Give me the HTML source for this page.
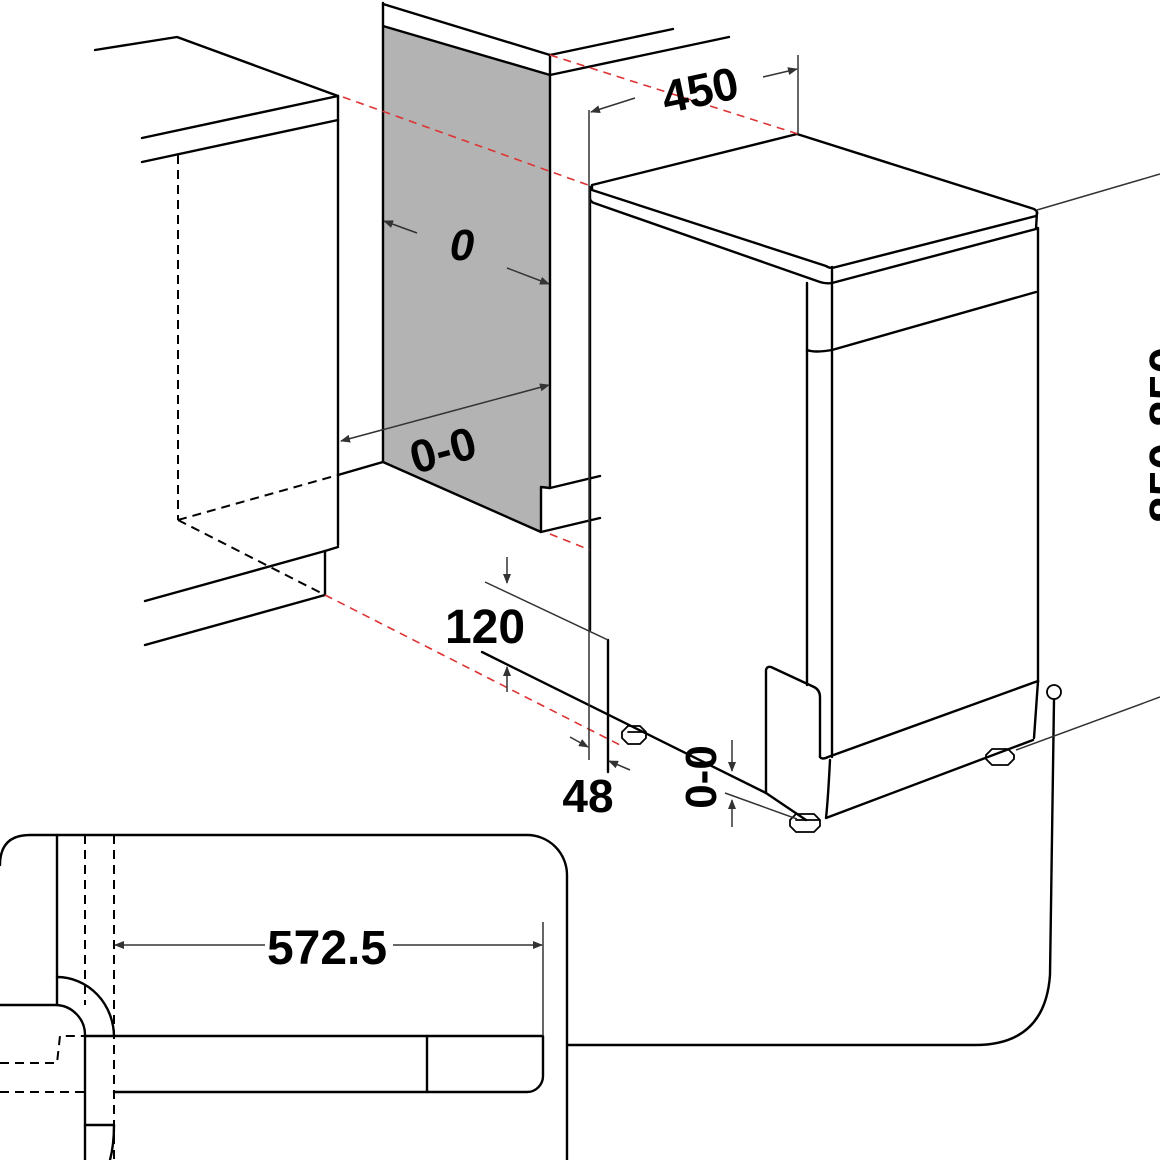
<!DOCTYPE html>
<html><head><meta charset="utf-8"><style>
html,body{margin:0;padding:0;background:#fff;width:1160px;height:1160px;overflow:hidden}
svg{display:block}
text{font-family:"Liberation Sans",sans-serif;font-weight:bold;fill:#000}
</style></head><body>
<svg width="1160" height="1160" viewBox="0 0 1160 1160" xmlns="http://www.w3.org/2000/svg">
<defs>
<marker id="ar" markerWidth="10" markerHeight="8" refX="9" refY="4" orient="auto" markerUnits="userSpaceOnUse">
<path d="M0,0 L10,4 L0,8 z" fill="#333"/></marker>
</defs>
<g fill="none" stroke="#000" stroke-width="2.4" stroke-linejoin="round" stroke-linecap="round">
<polyline points="95,50 177,37 338,96"/>
<line x1="338" y1="96" x2="142" y2="138"/>
<line x1="142" y1="162" x2="338" y2="120"/>
<line x1="338" y1="96" x2="338" y2="545"/>
<line x1="338" y1="475" x2="383" y2="462"/>
<line x1="145" y1="601" x2="325" y2="551"/>
<line x1="145" y1="645" x2="325" y2="595"/>
<line x1="325" y1="551" x2="338" y2="547"/>
<line x1="325" y1="551" x2="325" y2="595"/>
<polygon points="383,26 550,75 550,488 541,487 541,532 383,462" fill="#b3b3b3"/>
<polyline points="383,3 383,26"/>
<line x1="383" y1="4" x2="550" y2="55"/>
<line x1="550" y1="55" x2="550" y2="75"/>
<line x1="550" y1="55" x2="673" y2="29"/>
<line x1="550" y1="75" x2="729" y2="37"/>
<line x1="550" y1="488" x2="600" y2="476"/>
<line x1="541" y1="532" x2="600" y2="518"/>
<path d="M592,185 L797,134 L1034,209 Q1039,212 1036,216 L836,267 Q830,269 826,266 L592,190 Z"/>
<path d="M590,187 L590,199 Q591,202 594,203 L820,282 Q826,284 832,283 L1036,229 L1037,212"/>
<line x1="832" y1="267" x2="832" y2="283"/>
<line x1="590" y1="199" x2="590" y2="630"/>
<line x1="807" y1="283" x2="807" y2="685"/>
<line x1="832" y1="283" x2="832" y2="757"/>
<line x1="1038" y1="228" x2="1038" y2="682"/>
<path d="M807,350 Q815,353 832,350 L1036,292"/>
<path d="M766,793 L766,670 Q767,666 771,667 L814,687 Q820,690 820,697 L820,757"/>
<path d="M820,757 Q822,760 828,757 L1038,681"/>
<path d="M1038,681 L1034,738"/>
<path d="M830,760 Q828,800 826,818 L1033,740"/>
<path d="M766,793 L806,820"/>
<path d="M608,640 L608,772"/>
<path d="M482,652 L766,793"/>
<path d="M622,732 l6,-6 h12 l6,6 v6 l-6,6 h-12 l-6,-6 z M628,732 h18" stroke-width="1.8"/>
<path d="M790,820 l6,-6 h18 l6,6 v6 l-6,6 h-18 l-6,-6 z M796,820 h24" stroke-width="1.8"/>
<path d="M986,755 l6,-6 h16 l6,6 v4 l-6,6 h-16 l-6,-6 z" stroke-width="1.8"/>
<path d="M0,865 Q0,835 30,835 L527,835 A40,40 0 0 1 567,875 L567,1160"/>
<line x1="57" y1="835" x2="57" y2="1005"/>
<path d="M57,977 A57,60 0 0 1 114,1037"/>
<path d="M0,1005 L55,1005 A30,30 0 0 1 85,1035 L85,1160"/>
<path d="M85,1036 L543,1036 L543,1076 A16,16 0 0 1 527,1092 L114,1092"/>
<line x1="427" y1="1036" x2="427" y2="1092"/>
<line x1="85" y1="1125" x2="114" y2="1125"/>
<path d="M114,1125 Q114,1145 110,1160"/>
<path d="M567,1045 L975,1045 Q1045,1045 1050,975 L1054,700"/>
</g>
<g fill="none" stroke="#000" stroke-width="2" stroke-dasharray="9,6">
<line x1="178" y1="155" x2="178" y2="520"/>
<line x1="178" y1="520" x2="338" y2="475"/>
<line x1="178" y1="520" x2="325" y2="595"/>
<line x1="85" y1="835" x2="85" y2="1005"/>
<line x1="114" y1="835" x2="114" y2="1160"/>
<polyline points="0,1063 57,1063 60,1036 85,1036"/>
<line x1="0" y1="1092" x2="85" y2="1092"/>
</g>
<g fill="none" stroke="#d33" stroke-width="1.6" stroke-dasharray="8,6">
<line x1="343" y1="97" x2="588" y2="185"/>
<line x1="550" y1="55" x2="798" y2="134"/>
<line x1="550" y1="534" x2="590" y2="550"/>
<line x1="325" y1="595" x2="620" y2="745"/>
</g>
<g fill="none" stroke="#333" stroke-width="1.5">
<line x1="589" y1="110" x2="589" y2="760"/>
<line x1="798" y1="55" x2="798" y2="134"/>
<line x1="635" y1="98" x2="591" y2="112" marker-end="url(#ar)"/>
<line x1="763" y1="77" x2="797" y2="69" marker-end="url(#ar)"/>
<line x1="417" y1="233" x2="384" y2="221" marker-end="url(#ar)"/>
<line x1="507" y1="268" x2="549" y2="284" marker-end="url(#ar)"/>
<line x1="445" y1="413" x2="549" y2="385" marker-end="url(#ar)"/>
<line x1="445" y1="413" x2="341" y2="441" marker-end="url(#ar)"/>
<line x1="485" y1="582" x2="608" y2="640"/>
<line x1="507" y1="557" x2="507" y2="583" marker-end="url(#ar)"/>
<line x1="507" y1="692" x2="507" y2="667" marker-end="url(#ar)"/>
<line x1="570" y1="737" x2="588" y2="747" marker-end="url(#ar)"/>
<line x1="630" y1="770" x2="609" y2="761" marker-end="url(#ar)"/>
<line x1="732" y1="740" x2="732" y2="771" marker-end="url(#ar)"/>
<line x1="732" y1="827" x2="732" y2="800" marker-end="url(#ar)"/>
<line x1="725" y1="793" x2="797" y2="819"/>
<line x1="1037" y1="210" x2="1160" y2="174"/>
<line x1="1016" y1="750" x2="1160" y2="697"/>
<line x1="543" y1="922" x2="543" y2="1036"/>
<line x1="330" y1="945" x2="115" y2="945" marker-end="url(#ar)"/>
<line x1="330" y1="945" x2="542" y2="945" marker-end="url(#ar)"/>
</g>
<circle cx="1054" cy="692" r="7" fill="#fff" stroke="#000" stroke-width="1.8"/>
<text x="700" y="106" font-size="46" text-anchor="middle" transform="rotate(-12 700 90)">450</text>
<text x="462" y="260" font-size="44" font-style="italic" text-anchor="middle">0</text>
<text x="443" y="466" font-size="46" text-anchor="middle" transform="rotate(-15 443 450)">0-0</text>
<text x="485" y="643" font-size="48" text-anchor="middle">120</text>
<text x="588" y="812" font-size="46" text-anchor="middle">48</text>
<text x="700" y="793" font-size="44" text-anchor="middle" transform="rotate(-90 700 777)">0-0</text>
<rect x="265" y="928" width="128" height="36" fill="#fff"/>
<text x="327" y="964" font-size="48" text-anchor="middle">572.5</text>
<text x="1166" y="452" font-size="48" text-anchor="middle" transform="rotate(-90 1166 435)">850-850</text>
</svg>
</body></html>
